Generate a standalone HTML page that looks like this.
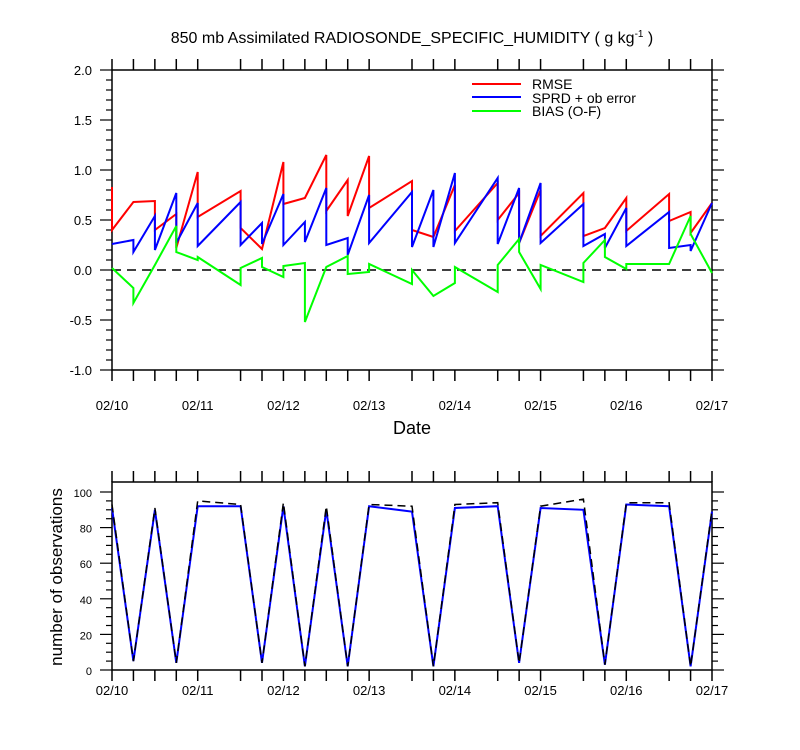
<!DOCTYPE html>
<html><head><meta charset="utf-8"><style>
html,body{margin:0;padding:0;background:#fff;}
svg{display:block;font-family:"Liberation Sans",sans-serif;}
</style></head><body>
<svg id="chart" width="800" height="750" viewBox="0 0 800 750" xmlns="http://www.w3.org/2000/svg">
<text x="412" y="43" font-size="16" text-anchor="middle">850 mb Assimilated RADIOSONDE_SPECIFIC_HUMIDITY ( g kg<tspan font-size="10" dy="-6">-1</tspan><tspan dy="6"> )</tspan></text>
<text x="412" y="434" font-size="18" text-anchor="middle">Date</text>
<text transform="translate(62,577) rotate(-90)" font-size="17" text-anchor="middle">number of observations</text>
<g id="legend">
<line x1="472" y1="84" x2="521" y2="84" stroke="#f00" stroke-width="2"/>
<text x="532" y="89" font-size="14">RMSE</text>
<line x1="472" y1="97" x2="521" y2="97" stroke="#00f" stroke-width="2"/>
<text x="532" y="103" font-size="14">SPRD + ob error</text>
<line x1="472" y1="111" x2="521" y2="111" stroke="#0f0" stroke-width="2"/>
<text x="532" y="116" font-size="14">BIAS (O-F)</text>
</g>
</svg>
<script>
const times = [0,0.25,0.5,0.75,1,1.5,1.75,2,2.25,2.5,2.75,3,3.5,3.75,4,4.5,4.75,5,5.5,5.75,6,6.5,6.75,7];
const dateLabels = ["02/10","02/11","02/12","02/13","02/14","02/15","02/16","02/17"];
const rmseIn  = [0.83,0.68,0.69,0.56,0.98,0.79,0.21,1.08,0.72,1.15,0.90,1.14,0.89,0.33,0.85,0.87,0.77,0.80,0.77,0.42,0.72,0.76,0.58,0.67];
const rmseOut = [0.40,0.68,0.40,0.22,0.53,0.42,0.21,0.66,0.72,0.59,0.54,0.62,0.40,0.33,0.39,0.50,0.27,0.34,0.34,0.42,0.39,0.49,0.37,0.67];
const sprdIn  = [0.26,0.30,0.54,0.77,0.67,0.68,0.47,0.76,0.48,0.82,0.32,0.75,0.78,0.80,0.97,0.92,0.82,0.87,0.66,0.36,0.62,0.58,0.25,0.67];
const sprdOut = [0.26,0.18,0.20,0.27,0.24,0.25,0.26,0.25,0.28,0.25,0.15,0.27,0.23,0.23,0.27,0.26,0.27,0.27,0.24,0.22,0.24,0.22,0.19,0.67];
const biasIn  = [0.02,-0.18,0.05,0.44,0.10,-0.15,0.12,-0.07,0.07,0.03,0.14,-0.02,-0.14,-0.26,-0.13,-0.22,0.31,-0.19,-0.12,0.30,0.01,0.06,0.54,-0.03];
const biasOut = [0.02,-0.33,0.05,0.18,0.13,0.02,0.03,0.04,-0.52,0.03,-0.04,0.06,0.00,-0.26,0.03,0.05,0.18,0.05,0.07,0.13,0.06,0.06,0.36,-0.03];
const obsUsed = [91,5,90,4,92,92,4,92,2,90,2,92,89,2,91,92,4,91,90,3,93,92,2,89];
const obsPoss = [93,5,91,4,95,93,4,94,2,92,2,93,92,2,93,94,4,92,96,3,94,94,2,90];
const topYTicks = ["-1.0","-0.5","0.0","0.5","1.0","1.5","2.0"];
const botYTicks = ["0","20","40","60","80","100"];

const svg = document.getElementById('chart');
const NS = 'http://www.w3.org/2000/svg';
const X0 = 112, X1 = 712;
const xs = t => X0 + (X1 - X0) * t / 7;
const yTop = v => 370 - (v + 1) * 100;
const yBot = v => 670 - v * 1.78;
function mk(tag, attrs, parent) {
  const e = document.createElementNS(NS, tag);
  for (const k in attrs) e.setAttribute(k, attrs[k]);
  (parent || svg).appendChild(e);
  return e;
}
function axes(top, bot, ys, yticks, minorStep, majorStep, vmin, name, labelY, tickFs, isTop) {
  const g = mk('g', {});
  
  
  mk('rect', {x: X0, y: top, width: X1 - X0, height: bot - top, fill: 'none', stroke: '#000', 'stroke-width': 1.5}, g);
  times.forEach(t => {
    mk('line', {x1: xs(t), y1: top, x2: xs(t), y2: top - 11, stroke: '#000', 'stroke-width': 1.5}, g);
    mk('line', {x1: xs(t), y1: bot, x2: xs(t), y2: bot + 11, stroke: '#000', 'stroke-width': 1.5}, g);
  });
  dateLabels.forEach((d, i) => {
    const tx = mk('text', {x: xs(i), y: labelY, 'font-size': 13, 'text-anchor': 'middle'}, g);
    tx.textContent = d;
    
    
  });
  const vmax = vmin + majorStep * (yticks.length - 1);
  for (let v = vmin; v <= vmax + 1e-9; v += minorStep) {
    const isMajor = Math.abs(Math.round((v - vmin) / majorStep) * majorStep - (v - vmin)) < 1e-6;
    const L = isMajor ? 12 : 6;
    mk('line', {x1: X0, y1: ys(v), x2: X0 - L, y2: ys(v), stroke: '#000', 'stroke-width': 1.2}, g);
    mk('line', {x1: X1, y1: ys(v), x2: X1 + L, y2: ys(v), stroke: '#000', 'stroke-width': 1.2}, g);
  }
  yticks.forEach((lab, i) => {
    const tx = mk('text', {x: 92, y: ys(vmin + i * majorStep) + 5, 'font-size': tickFs, 'text-anchor': 'end'}, g);
    tx.textContent = lab;
    
    
  });
}
axes(70, 370, yTop, topYTicks, 0.1, 0.5, -1, 'top', 410, 13, true);
axes(482, 670, yBot, botYTicks, 5, 20, 0, 'bottom', 695, 11, false);

const zero = mk('line', {x1: X0, y1: yTop(0), x2: X1, y2: yTop(0), stroke: '#000', 'stroke-width': 1.5, 'stroke-dasharray': '9,6'});



function stepPath(ins, outs, ys) {
  let d = '';
  times.forEach((t, i) => {
    d += (i === 0 ? 'M' : 'L') + xs(t).toFixed(1) + ',' + ys(ins[i]).toFixed(1);
    d += 'L' + xs(t).toFixed(1) + ',' + ys(outs[i]).toFixed(1);
  });
  return d;
}
const pr = mk('path', {d: stepPath(rmseIn, rmseOut, yTop), fill: 'none', stroke: '#f00', 'stroke-width': 2});


const pb = mk('path', {d: stepPath(sprdIn, sprdOut, yTop), fill: 'none', stroke: '#00f', 'stroke-width': 2});


const pg = mk('path', {d: stepPath(biasIn, biasOut, yTop), fill: 'none', stroke: '#0f0', 'stroke-width': 2});



function linePath(vals) {
  return times.map((t, i) => (i ? 'L' : 'M') + xs(t).toFixed(1) + ',' + yBot(vals[i]).toFixed(1)).join('');
}
const pu = mk('path', {d: linePath(obsUsed), fill: 'none', stroke: '#00f', 'stroke-width': 2});


const pp = mk('path', {d: linePath(obsPoss), fill: 'none', stroke: '#000', 'stroke-width': 1.5, 'stroke-dasharray': '8,5'});


</script>
</body></html>
